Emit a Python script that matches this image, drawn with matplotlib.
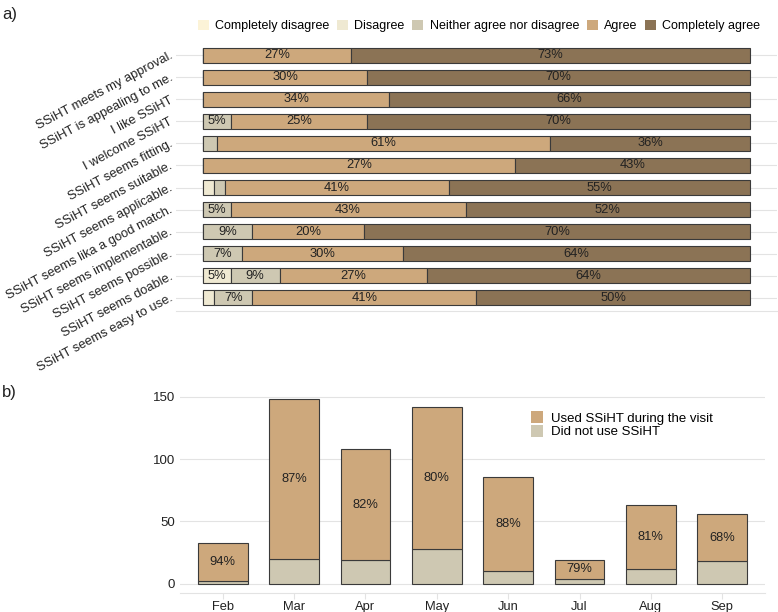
import numpy as np
import matplotlib
matplotlib.use('Agg')
import matplotlib.pyplot as plt
from matplotlib.patches import Patch

plt.rcParams['font.family'] = ['Liberation Sans', 'DejaVu Sans']

# ---- panel a data (percent of respondents) ----
statements = ['SSiHT meets my approval.', 'SSiHT is appealing to me.', 'I like SSiHT',
              'I welcome SSiHT', 'SSiHT seems fitting.', 'SSiHT seems suitable.',
              'SSiHT seems applicable.', 'SSiHT seems lika a good match.',
              'SSiHT seems implementable.', 'SSiHT seems possible.',
              'SSiHT seems doable.', 'SSiHT seems easy to use.']
levels = ['Completely disagree', 'Disagree', 'Neither agree nor disagree',
          'Agree', 'Completely agree']
completely_disagree = [0, 0, 0, 0, 0, 0, 0, 0, 0, 0, 0, 0]
disagree = [0, 0, 0, 0, 0, 0, 2, 0, 0, 0, 5, 2]
neither = [0, 0, 0, 5, 2.5, 0, 2, 5, 9, 7, 9, 7]
agree = [27, 30, 34, 25, 61, 57, 41, 43, 20.5, 29.5, 27, 41]
completely_agree = [73, 70, 66, 70, 36.5, 43, 55, 52, 70.5, 63.5, 59, 50]

# labels as printed in the figure
lab_cd = [''] * 12
lab_dis = ['', '', '', '', '', '', '', '', '', '', '5%', '']
lab_nei = ['', '', '', '5%', '', '', '', '5%', '9%', '7%', '9%', '7%']
lab_agr = ['27%', '30%', '34%', '25%', '61%', '27%', '41%', '43%', '20%', '30%', '27%', '41%']
lab_ca = ['73%', '70%', '66%', '70%', '36%', '43%', '55%', '52%', '70%', '64%', '64%', '50%']

# ---- panel b data (visits per month) ----
months = ['Feb', 'Mar', 'Apr', 'May', 'Jun', 'Jul', 'Aug', 'Sep']
not_used = [2, 20, 19, 28, 10, 4, 12, 18]
used = [31, 128, 89, 114, 76, 15, 51, 38]
used_pct = ['94%', '87%', '82%', '80%', '88%', '79%', '81%', '68%']

colors = ['#FCF3D7', '#EFE9D2', '#CEC8B2', '#CDA87C', '#8B7355']
edge = '#3a3a3a'
grid_c = '#E3E3E3'
txt_c = '#222222'

fig = plt.figure(figsize=(7.78, 6.12), dpi=100)

# ================= a) =================
ax1 = fig.add_axes([176/778, 1 - 311/612, 601/778, 269/612])
y = np.arange(len(statements))
series = [completely_disagree, disagree, neither, agree, completely_agree]
labels = [lab_cd, lab_dis, lab_nei, lab_agr, lab_ca]
left = np.zeros(len(statements))
for vals, lab, col in zip(series, labels, colors):
    vals = np.array(vals, dtype=float)
    ax1.barh(y, vals, left=left, height=0.7, color=col, edgecolor=edge,
             linewidth=0.8, zorder=3)
    for i in range(len(y)):
        if lab[i]:
            ax1.text(left[i] + vals[i] / 2, y[i], lab[i], ha='center', va='center',
                     fontsize=9.3, color=txt_c, zorder=4)
    left += vals

ax1.set_xlim(-5, 105)
ax1.set_ylim(len(y) - 0.4, -0.6)
ax1.set_yticks(y)
ax1.set_yticklabels(statements, rotation=28, ha='right', va='center',
                    rotation_mode='anchor', fontsize=9.3, color=txt_c)
ax1.tick_params(axis='y', length=0, pad=3)
ax1.set_xticks([])
for s in ['top', 'right', 'left']:
    ax1.spines[s].set_visible(False)
ax1.spines['bottom'].set_color(grid_c)
ax1.grid(axis='y', color=grid_c, linewidth=0.8, zorder=0)
ax1.set_axisbelow(True)

handles = [Patch(facecolor=c, edgecolor='none', label=l) for c, l in zip(colors, levels)]
fig.legend(handles=handles, loc='center', bbox_to_anchor=(479/778, 1 - 26/612),
           ncol=5, frameon=False, fontsize=9, handlelength=0.9, handleheight=0.9,
           handletextpad=0.5, columnspacing=0.6)

fig.text(2/778, 1 - 14/612, 'a)', fontsize=12, va='center', color=txt_c)

# ================= b) =================
ax2 = fig.add_axes([180/778, 1 - 593/612, 585/778, 203/612])
x = np.arange(len(months))
ax2.bar(x, not_used, width=0.7, color=colors[2], edgecolor=edge, linewidth=0.8, zorder=3,
        label='Did not use SSiHT')
ax2.bar(x, used, bottom=not_used, width=0.7, color=colors[3], edgecolor=edge,
        linewidth=0.8, zorder=3, label='Used SSiHT during the visit')
for xi, b, u, t in zip(x, not_used, used, used_pct):
    ax2.text(xi, b + u / 2, t, ha='center', va='center', fontsize=9.3, color=txt_c, zorder=4)

ax2.set_xlim(-0.6, len(months) - 0.4)
ax2.set_ylim(-7.4, 155.4)
ax2.set_yticks([0, 50, 100, 150])
ax2.set_xticks(x)
ax2.set_xticklabels(months, fontsize=9.3, color=txt_c)
ax2.tick_params(axis='y', length=0, pad=3.5, labelsize=9.5, labelcolor=txt_c)
ax2.tick_params(axis='x', length=4, color=grid_c, pad=2)
for s in ['top', 'right', 'left']:
    ax2.spines[s].set_visible(False)
ax2.spines['bottom'].set_color(grid_c)
ax2.grid(axis='y', color=grid_c, linewidth=0.8, zorder=0)
ax2.set_axisbelow(True)

h2 = [Patch(facecolor=colors[3], edgecolor='none', label='Used SSiHT during the visit'),
      Patch(facecolor=colors[2], edgecolor='none', label='Did not use SSiHT')]
ax2.legend(handles=h2, loc='upper left', bbox_to_anchor=(0.585, 0.94), frameon=False,
           fontsize=9.5, handlelength=0.9, handleheight=1.0, labelspacing=0.0,
           handletextpad=0.6, borderpad=0.2)

fig.text(2/778, 1 - 393/612, 'b)', fontsize=12, va='center', color=txt_c)

fig.savefig('out.png', dpi=100)
